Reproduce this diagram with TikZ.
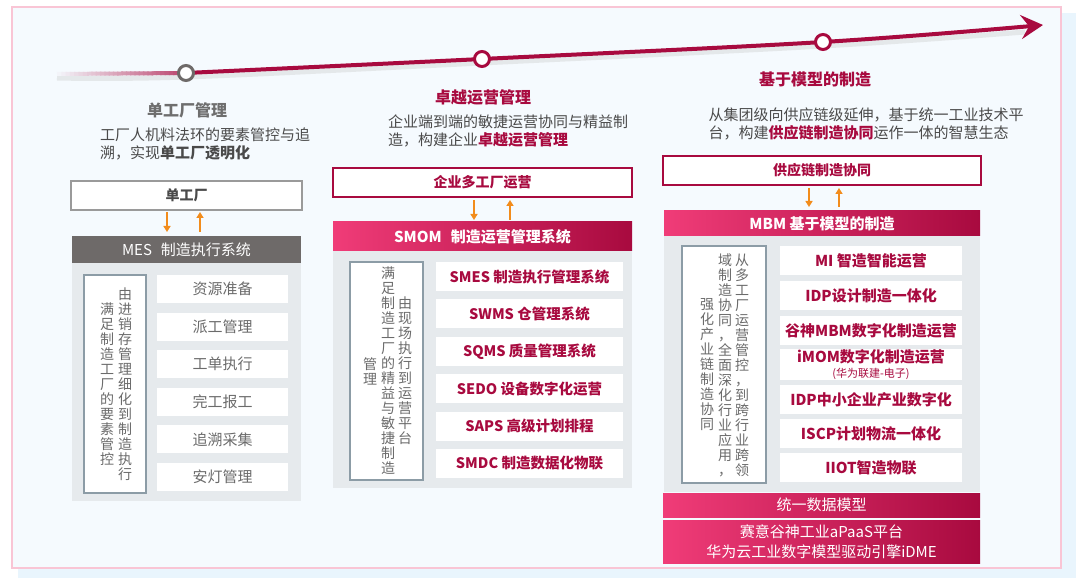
\documentclass[tikz,border=0pt]{standalone}
\usepackage{fontspec}
\setmainfont{Noto Sans CJK SC}
\usepackage{xcolor}
\definecolor{mainred}{HTML}{A80A3F}
\definecolor{pinkred}{HTML}{F03C78}
\definecolor{mesgray}{HTML}{6E6A69}
\definecolor{panelgray}{HTML}{E6EAED}
\definecolor{notegray}{HTML}{8C9CA6}
\definecolor{boxgray}{HTML}{9A9A9A}
\definecolor{bgfill}{HTML}{F5FAFE}
\definecolor{framepink}{HTML}{F9C5D5}
\definecolor{shadowblue}{HTML}{E9F5FD}
\definecolor{softtext}{HTML}{4A4A4A}
\definecolor{mildtext}{HTML}{6B6B6B}
\definecolor{titlegray}{HTML}{6E6E6E}
\definecolor{orangearrow}{HTML}{F28C1C}
\usepackage{tikz}
\usetikzlibrary{arrows.meta, positioning, calc}
\newcommand{\setfs}[2]{\fontsize{#1}{#2}\selectfont}

\begin{document}
\begin{tikzpicture}[x=1pt, y=-1pt,
  every node/.style={inner sep=0pt, outer sep=0pt},
  milestone/.style={circle, fill=white, draw=#1, line width=3pt, minimum size=15pt},
  stagetitle/.style={font=\setfs{16}{18}\bfseries},
  stagedesc/.style={font=\setfs{15}{18}, text=softtext, align=left},
  topbox/.style={rectangle, draw=#1, line width=1.2pt, fill=white, text=#1,
                 minimum height=29pt, font=\setfs{14}{16}\bfseries},
  sysbar/.style={rectangle, text=white, align=center, font=\setfs{15}{17}},
  redshade/.style={left color=pinkred, right color=mainred},
  panel/.style={rectangle, fill=panelgray},
  notebox/.style={rectangle, fill=white, draw=notegray, line width=1.2pt},
  vtext/.style={align=center, text=mildtext, font=\setfs{14}{15}},
  module/.style={rectangle, fill=white, minimum height=29pt, align=center},
  updown/.style={-{Triangle[length=6pt, width=7pt]}, orangearrow, line width=2pt}
]
  \useasboundingbox (0,0) rectangle (1080,580);
  \fill[shadowblue] (18,13) rectangle (1076,578);
  \draw[fill=bgfill, draw=framepink, line width=1.2pt] (12,7) rectangle (1061,568);

  \coordinate (start) at (57,74);
  \coordinate (c1) at (186,73);
  \coordinate (c2) at (482,59);
  \coordinate (c3) at (823,42);
  \coordinate (tip) at (1043,25);

  \draw[line width=5pt, gray!50, opacity=0.3, transform canvas={yshift=-4pt}]
    plot[smooth, tension=0.6] coordinates {(start) (c1) (c2) (c3) (1025,28)};
  \foreach \k in {1,...,30}{
    \pgfmathsetmacro{\pct}{\k*75/30}
    \draw[line width=4pt, mainred!\pct!bgfill] ($(start)!{(\k-1)/30}!(c1)$) -- ($(start)!{(\k+0.3)/30}!(c1)$);
  }
  \draw[line width=4pt, mainred, -{Stealth[length=22pt, width=24pt, inset=8pt]}]
    plot[smooth, tension=0.6] coordinates {(c1) (c2) (c3) (tip)};
  \node[milestone=mesgray] (m1) at (c1) {};
  \node[milestone=mainred] (m2) at (c2) {};
  \node[milestone=mainred] (m3) at (c3) {};

  % single plant
  \node[stagetitle, text=titlegray] (title1) at (187,110) {单工厂管理};
  \node[stagedesc] (desc1) at (205,144) {工厂人机料法环的要素管控与追\\溯，实现\textbf{单工厂透明化}};
  \node[topbox=boxgray, text=softtext, minimum width=231pt] (plant1) at (186.5,195.5) {单工厂};
  \node[panel, minimum width=229pt, minimum height=238pt] (panel1) at (186.5,382) {};
  \node[sysbar, fill=mesgray, minimum width=229pt, minimum height=27pt] (mes) at (186.5,249.5) {MES\hspace{0.6em}制造执行系统};
  \draw[updown] ([xshift=-19.5pt, yshift=-2pt]plant1.south) -- ([xshift=-19.5pt, yshift=4pt]mes.north);
  \draw[updown] ([xshift=13.5pt, yshift=4pt]mes.north) -- ([xshift=13.5pt, yshift=-2pt]plant1.south);
  \node[notebox, minimum width=62pt, minimum height=218pt] (note1) at (115,384) {};
  \node[vtext] (note1r) at (125,384) {由\\进\\销\\存\\管\\理\\细\\化\\到\\制\\造\\执\\行};
  \node[vtext] (note1l) at (107,384) {满\\足\\制\\造\\工\\厂\\的\\要\\素\\管\\控};
  \foreach \txt [count=\i] in {资源准备, 派工管理, 工单执行, 完工报工, 追溯采集, 安灯管理}
    \node[module, minimum width=131pt, minimum height=28pt, text=mildtext, font=\setfs{15}{17}]
      (task\i) at (222.5, {289+37.6*(\i-1)}) {\txt};

  % multi plant
  \node[stagetitle, text=mainred] (title2) at (483,97) {卓越运营管理};
  \node[stagedesc] (desc2) at (508,131) {企业端到端的敏捷运营协同与精益制\\造，构建企业\textcolor{mainred}{\textbf{卓越运营管理}}};
  \node[topbox=mainred, minimum width=299pt] (plant2) at (482.5,182.5) {企业多工厂运营};
  \node[panel, minimum width=299pt, minimum height=237pt] (panel2) at (482.5,369.5) {};
  \node[sysbar, redshade, minimum width=299pt, minimum height=29pt] (smom) at (482.5,236.5) {\bfseries SMOM\hspace{0.6em}制造运营管理系统};
  \draw[updown] ([xshift=-8.5pt, yshift=-3pt]plant2.south) -- ([xshift=-8.5pt, yshift=2pt]smom.north);
  \draw[updown] ([xshift=27.5pt, yshift=2pt]smom.north) -- ([xshift=27.5pt, yshift=-3pt]plant2.south);
  \node[notebox, minimum width=73pt, minimum height=218pt] (note2) at (386.5,371) {};
  \node[vtext] (note2r) at (405,371) {由\\现\\场\\执\\行\\到\\运\\营\\平\\台};
  \node[vtext] (note2m) at (388,371) {满\\足\\制\\造\\工\\厂\\的\\精\\益\\与\\敏\\捷\\制\\造};
  \node[vtext] (note2l) at (370,371) {管\\理};
  \foreach \txt [count=\i] in {SMES 制造执行管理系统, SWMS 仓管理系统, SQMS 质量管理系统,
                               SEDO 设备数字化运营, SAPS 高级计划排程, SMDC 制造数据化物联}
    \node[module, minimum width=187pt, text=mainred, font=\setfs{14.5}{17}\bfseries]
      (sys\i) at (529.5, {276.5+37.4*(\i-1)}) {\txt};

  % model based
  \node[stagetitle, text=mainred] (title3) at (815,79) {基于模型的制造};
  \node[stagedesc] (desc3) at (866,124) {从集团级向供应链级延伸，基于统一工业技术平\\台，构建\textcolor{mainred}{\textbf{供应链制造协同}}运作一体的智慧生态};
  \node[topbox=mainred, minimum width=318pt] (plant3) at (822,170.5) {供应链制造协同};
  \node[panel, minimum width=316pt, minimum height=256pt] (panel3) at (822,364) {};
  \node[sysbar, redshade, minimum width=316pt, minimum height=25pt] (mbm) at (822,223.5) {\bfseries MBM 基于模型的制造};
  \draw[updown] ([xshift=-13pt, yshift=-3pt]plant3.south) -- ([xshift=-13pt, yshift=4pt]mbm.north);
  \draw[updown] ([xshift=17pt, yshift=4pt]mbm.north) -- ([xshift=17pt, yshift=-3pt]plant3.south);
  \node[notebox, minimum width=84pt, minimum height=237pt] (note3) at (724,364.5) {};
  \node[vtext] (note3r) at (742,365) {从\\多\\工\\厂\\运\\营\\管\\控\\，\\到\\跨\\行\\业\\跨\\领};
  \node[vtext] (note3m) at (725,365) {域\\制\\造\\协\\同\\，\\全\\面\\深\\化\\行\\业\\应\\用\\，};
  \node[vtext] (note3l) at (707,365) {强\\化\\产\\业\\链\\制\\造\\协\\同};
  \node[module, minimum width=182pt, text=mainred, font=\setfs{15}{17}\bfseries] (mod1) at (871,260.5) {MI 智造智能运营};
  \node[module, minimum width=182pt, text=mainred, font=\setfs{15}{17}\bfseries] (mod2) at (871,295.5) {IDP设计制造一体化};
  \node[module, minimum width=182pt, text=mainred, font=\setfs{15}{17}\bfseries] (mod3) at (871,330.5) {谷神MBM数字化制造运营};
  \node[module, minimum width=182pt, text=mainred, font=\setfs{15}{15}\bfseries] (mod4) at (871,364.5) {iMOM数字化制造运营\\{\setfs{11}{13}\mdseries (华为联建-电子)}};
  \node[module, minimum width=182pt, text=mainred, font=\setfs{15}{17}\bfseries] (mod5) at (871,399.5) {IDP中小企业产业数字化};
  \node[module, minimum width=182pt, text=mainred, font=\setfs{15}{17}\bfseries] (mod6) at (871,433.5) {ISCP计划物流一体化};
  \node[module, minimum width=182pt, text=mainred, font=\setfs{15}{17}\bfseries] (mod7) at (871,467.5) {IIOT智造物联};
  \node[sysbar, redshade, minimum width=317pt, minimum height=24pt] (datamodel) at (821.5,505) {统一数据模型};
  \node[sysbar, redshade, minimum width=317pt, minimum height=43pt, font=\setfs{15}{20}] (paas) at (821.5,541.5) {赛意谷神工业aPaaS平台\\华为云工业数字模型驱动引擎iDME};
\end{tikzpicture}
\end{document}
